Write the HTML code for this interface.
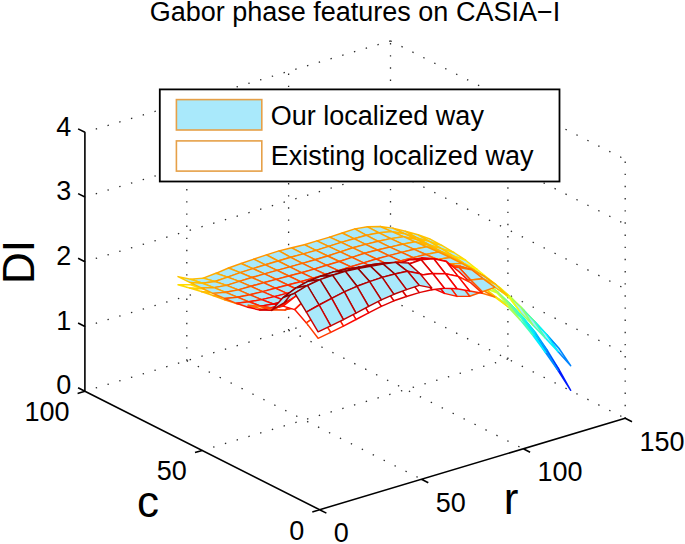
<!DOCTYPE html>
<html><head><meta charset="utf-8"><style>
html,body{margin:0;padding:0;background:#fff;}
svg{display:block;font-family:"Liberation Sans",sans-serif;}
</style></head><body>
<svg width="685" height="544" viewBox="0 0 685 544">
<rect width="685" height="544" fill="#fff"/>
<path d="M390.5 299.8L84.9 391.2M390.5 235.1L84.9 326.5M390.5 170.3L84.9 261.7M390.5 105.6L84.9 197.0M390.5 40.9L84.9 132.3M390.5 299.8L625.2 418.3M390.5 235.1L625.2 353.6M390.5 170.3L625.2 288.8M390.5 105.6L625.2 224.1M390.5 40.9L625.2 159.4M186.8 360.7L421.5 479.2M288.6 330.3L523.3 448.8M507.9 359.0L202.3 450.4M390.5 299.8L84.9 391.2" fill="none" stroke="#2a2a2a" stroke-width="1.3" stroke-dasharray="1.4 10.85"/>
<path d="M186.8 360.7L186.8 101.8M288.6 330.3L288.6 71.3M390.5 299.8L390.5 40.9M625.2 418.3L625.2 159.4M507.9 359.0L507.9 100.1" fill="none" stroke="#2a2a2a" stroke-width="1.3" stroke-dasharray="1.4 10.76"/>
<g stroke-width="1.45" stroke-linejoin="round"><polygon points="429.7,247.8 442.3,252.2 430.6,245.7 418.0,241.2" fill="#ffffff" stroke="#e7ff18"/><polygon points="429.7,241.6 442.3,245.6 430.6,239.3 418.0,234.8" fill="#a9e9fb" stroke="#ffc600"/><polygon points="417.0,244.1 429.7,247.8 418.0,241.2 405.4,237.8" fill="#ffffff" stroke="#ffff00"/><polygon points="441.3,254.8 454.0,259.5 442.3,252.2 429.7,247.8" fill="#ffffff" stroke="#d5ff2a"/><polygon points="417.0,237.9 429.7,241.6 418.0,234.8 405.4,231.3" fill="#a9e9fb" stroke="#ffc000"/><polygon points="441.3,248.6 454.0,252.5 442.3,245.6 429.7,241.6" fill="#a9e9fb" stroke="#ffcb00"/><polygon points="404.4,240.5 417.0,244.1 405.4,237.8 392.7,234.8" fill="#ffffff" stroke="#ffe700"/><polygon points="428.7,250.6 441.3,254.8 429.7,247.8 417.0,244.1" fill="#ffffff" stroke="#f4ff0b"/><polygon points="453.0,262.0 465.6,267.3 454.0,259.5 441.3,254.8" fill="#ffffff" stroke="#c3ff3c"/><polygon points="404.4,233.7 417.0,237.9 405.4,231.3 392.7,228.1" fill="#a9e9fb" stroke="#ffba00"/><polygon points="428.7,244.7 441.3,248.6 429.7,241.6 417.0,237.9" fill="#a9e9fb" stroke="#ffc100"/><polygon points="453.0,255.9 465.6,260.2 454.0,252.5 441.3,248.6" fill="#a9e9fb" stroke="#ffd400"/><polygon points="391.8,238.8 404.4,240.5 392.7,234.8 380.1,233.7" fill="#ffffff" stroke="#ffd100"/><polygon points="416.1,246.2 428.7,250.6 417.0,244.1 404.4,240.5" fill="#ffffff" stroke="#ffed00"/><polygon points="391.8,231.6 404.4,233.7 392.7,228.1 380.1,226.5" fill="#a9e9fb" stroke="#ffb500"/><polygon points="440.4,257.2 453.0,262.0 441.3,254.8 428.7,250.6" fill="#ffffff" stroke="#e7ff18"/><polygon points="464.7,269.9 477.3,276.6 465.6,267.3 453.0,262.0" fill="#ffffff" stroke="#b2ff4d"/><polygon points="416.1,239.4 428.7,244.7 417.0,237.9 404.4,233.7" fill="#a9e9fb" stroke="#ffba00"/><polygon points="440.4,251.5 453.0,255.9 441.3,248.6 428.7,244.7" fill="#a9e9fb" stroke="#ffc400"/><polygon points="464.7,264.0 477.3,269.5 465.6,260.2 453.0,255.9" fill="#a9e9fb" stroke="#ffe300"/><polygon points="379.1,239.9 391.8,238.8 380.1,233.7 367.5,235.1" fill="#ffffff" stroke="#ffc000"/><polygon points="379.1,232.8 391.8,231.6 380.1,226.5 367.5,226.8" fill="#a9e9fb" stroke="#ffae00"/><polygon points="403.4,243.9 416.1,246.2 404.4,240.5 391.8,238.8" fill="#ffffff" stroke="#ffd300"/><polygon points="427.7,251.7 440.4,257.2 428.7,250.6 416.1,246.2" fill="#ffffff" stroke="#fff400"/><polygon points="476.4,278.0 489.0,286.3 477.3,276.6 464.7,269.9" fill="#ffffff" stroke="#9eff61"/><polygon points="403.4,236.7 416.1,239.4 404.4,233.7 391.8,231.6" fill="#a9e9fb" stroke="#ffb500"/><polygon points="452.1,263.8 464.7,269.9 453.0,262.0 440.4,257.2" fill="#ffffff" stroke="#daff25"/><polygon points="427.7,245.0 440.4,251.5 428.7,244.7 416.1,239.4" fill="#a9e9fb" stroke="#ffbb00"/><polygon points="452.1,258.4 464.7,264.0 453.0,255.9 440.4,251.5" fill="#a9e9fb" stroke="#ffcc00"/><polygon points="476.4,272.4 489.0,279.1 477.3,269.5 464.7,264.0" fill="#a9e9fb" stroke="#fff700"/><polygon points="366.5,242.2 379.1,239.9 367.5,235.1 354.8,237.3" fill="#ffffff" stroke="#ffb500"/><polygon points="366.5,235.3 379.1,232.8 367.5,226.8 354.8,228.9" fill="#a9e9fb" stroke="#ffa600"/><polygon points="390.8,244.7 403.4,243.9 391.8,238.8 379.1,239.9" fill="#ffffff" stroke="#ffbf00"/><polygon points="390.8,238.6 403.4,236.7 391.8,231.6 379.1,232.8" fill="#a9e9fb" stroke="#ffab00"/><polygon points="415.1,248.7 427.7,251.7 416.1,246.2 403.4,243.9" fill="#ffffff" stroke="#ffd600"/><polygon points="488.0,286.2 500.7,296.4 489.0,286.3 476.4,278.0" fill="#ffffff" stroke="#84ff7b"/><polygon points="353.9,245.2 366.5,242.2 354.8,237.3 342.2,239.8" fill="#ffffff" stroke="#ffb000"/><polygon points="439.4,257.2 452.1,263.8 440.4,257.2 427.7,251.7" fill="#ffffff" stroke="#ffff00"/><polygon points="463.7,270.7 476.4,278.0 464.7,269.9 452.1,263.8" fill="#ffffff" stroke="#caff35"/><polygon points="415.1,241.8 427.7,245.0 416.1,239.4 403.4,236.7" fill="#a9e9fb" stroke="#ffb500"/><polygon points="488.0,280.9 500.7,288.4 489.0,279.1 476.4,272.4" fill="#a9e9fb" stroke="#f3ff0c"/><polygon points="439.4,250.6 452.1,258.4 440.4,251.5 427.7,245.0" fill="#a9e9fb" stroke="#ffbe00"/><polygon points="463.7,265.6 476.4,272.4 464.7,264.0 452.1,258.4" fill="#a9e9fb" stroke="#ffdb00"/><polygon points="353.9,238.7 366.5,235.3 354.8,228.9 342.2,233.0" fill="#a9e9fb" stroke="#ffa000"/><polygon points="378.2,247.0 390.8,244.7 379.1,239.9 366.5,242.2" fill="#ffffff" stroke="#ffb200"/><polygon points="378.2,241.3 390.8,238.6 379.1,232.8 366.5,235.3" fill="#a9e9fb" stroke="#ff9d00"/><polygon points="341.2,248.7 353.9,245.2 342.2,239.8 329.6,242.9" fill="#ffffff" stroke="#ffaf00"/><polygon points="402.5,249.3 415.1,248.7 403.4,243.9 390.8,244.7" fill="#ffffff" stroke="#ffbe00"/><polygon points="341.2,242.4 353.9,238.7 342.2,233.0 329.6,237.1" fill="#a9e9fb" stroke="#ff9b00"/><polygon points="402.5,244.2 415.1,241.8 403.4,236.7 390.8,238.6" fill="#a9e9fb" stroke="#ffa700"/><polygon points="499.7,295.1 512.3,307.1 500.7,296.4 488.0,286.2" fill="#ffffff" stroke="#63ff9c"/><polygon points="426.8,253.4 439.4,257.2 427.7,251.7 415.1,248.7" fill="#ffffff" stroke="#ffdd00"/><polygon points="475.4,277.5 488.0,286.2 476.4,278.0 463.7,270.7" fill="#ffffff" stroke="#b6ff49"/><polygon points="451.1,263.0 463.7,270.7 452.1,263.8 439.4,257.2" fill="#ffffff" stroke="#f2ff0d"/><polygon points="365.6,250.6 378.2,247.0 366.5,242.2 353.9,245.2" fill="#ffffff" stroke="#ffab00"/><polygon points="499.7,289.9 512.3,298.6 500.7,288.4 488.0,280.9" fill="#a9e9fb" stroke="#ddff22"/><polygon points="426.8,246.8 439.4,250.6 427.7,245.0 415.1,241.8" fill="#a9e9fb" stroke="#ffb400"/><polygon points="475.4,273.2 488.0,280.9 476.4,272.4 463.7,265.6" fill="#a9e9fb" stroke="#ffee00"/><polygon points="451.1,256.6 463.7,265.6 452.1,258.4 439.4,250.6" fill="#a9e9fb" stroke="#ffc500"/><polygon points="365.6,244.4 378.2,241.3 366.5,235.3 353.9,238.7" fill="#a9e9fb" stroke="#ff9400"/><polygon points="328.6,252.8 341.2,248.7 329.6,242.9 316.9,247.0" fill="#ffffff" stroke="#ffaf00"/><polygon points="389.9,251.7 402.5,249.3 390.8,244.7 378.2,247.0" fill="#ffffff" stroke="#ffae00"/><polygon points="328.6,246.4 341.2,242.4 329.6,237.1 316.9,240.9" fill="#a9e9fb" stroke="#ff9900"/><polygon points="389.9,247.1 402.5,244.2 390.8,238.6 378.2,241.3" fill="#a9e9fb" stroke="#ff9200"/><polygon points="352.9,254.2 365.6,250.6 353.9,245.2 341.2,248.7" fill="#ffffff" stroke="#ffa800"/><polygon points="414.2,253.9 426.8,253.4 415.1,248.7 402.5,249.3" fill="#ffffff" stroke="#ffc000"/><polygon points="511.4,305.2 524.0,318.6 512.3,307.1 499.7,295.1" fill="#ffffff" stroke="#3bffc4"/><polygon points="352.9,247.8 365.6,244.4 353.9,238.7 341.2,242.4" fill="#a9e9fb" stroke="#ff8f00"/><polygon points="414.2,249.3 426.8,246.8 415.1,241.8 402.5,244.2" fill="#a9e9fb" stroke="#ffa100"/><polygon points="316.0,256.9 328.6,252.8 316.9,247.0 304.3,251.1" fill="#ffffff" stroke="#ffaf00"/><polygon points="438.5,258.5 451.1,263.0 439.4,257.2 426.8,253.4" fill="#ffffff" stroke="#ffe900"/><polygon points="487.1,284.9 499.7,295.1 488.0,286.2 475.4,277.5" fill="#ffffff" stroke="#9aff65"/><polygon points="511.4,299.4 524.0,310.4 512.3,298.6 499.7,289.9" fill="#a9e9fb" stroke="#bdff42"/><polygon points="462.8,269.1 475.4,277.5 463.7,270.7 451.1,263.0" fill="#ffffff" stroke="#e0ff1f"/><polygon points="377.2,255.6 389.9,251.7 378.2,247.0 365.6,250.6" fill="#ffffff" stroke="#ffa400"/><polygon points="487.1,281.1 499.7,289.9 488.0,280.9 475.4,273.2" fill="#a9e9fb" stroke="#f8ff07"/><polygon points="316.0,250.4 328.6,246.4 316.9,240.9 304.3,244.7" fill="#a9e9fb" stroke="#ff9800"/><polygon points="438.5,252.0 451.1,256.6 439.4,250.6 426.8,246.8" fill="#a9e9fb" stroke="#ffb300"/><polygon points="462.8,263.0 475.4,273.2 463.7,265.6 451.1,256.6" fill="#a9e9fb" stroke="#ffd100"/><polygon points="377.2,250.0 389.9,247.1 378.2,241.3 365.6,244.4" fill="#a9e9fb" stroke="#ff8400"/><polygon points="340.3,258.4 352.9,254.2 341.2,248.7 328.6,252.8" fill="#ffffff" stroke="#ffa700"/><polygon points="401.5,256.3 414.2,253.9 402.5,249.3 389.9,251.7" fill="#ffffff" stroke="#ffa900"/><polygon points="340.3,251.9 352.9,247.8 341.2,242.4 328.6,246.4" fill="#a9e9fb" stroke="#ff8c00"/><polygon points="523.1,317.8 535.7,332.9 524.0,318.6 511.4,305.2" fill="#ffffff" stroke="#08fff7"/><polygon points="401.5,252.4 414.2,249.3 402.5,244.2 389.9,247.1" fill="#a9e9fb" stroke="#ff8500"/><polygon points="303.3,260.7 316.0,256.9 304.3,251.1 291.7,254.9" fill="#ffffff" stroke="#ffaf00"/><polygon points="364.6,259.7 377.2,255.6 365.6,250.6 352.9,254.2" fill="#ffffff" stroke="#ff9f00"/><polygon points="425.8,258.5 438.5,258.5 426.8,253.4 414.2,253.9" fill="#ffffff" stroke="#ffc500"/><polygon points="303.3,253.9 316.0,250.4 304.3,244.7 291.7,247.8" fill="#a9e9fb" stroke="#ff9600"/><polygon points="523.1,310.2 535.7,323.1 524.0,310.4 511.4,299.4" fill="#a9e9fb" stroke="#94ff6b"/><polygon points="498.8,293.7 511.4,305.2 499.7,295.1 487.1,284.9" fill="#ffffff" stroke="#76ff89"/><polygon points="364.6,253.3 377.2,250.0 365.6,244.4 352.9,247.8" fill="#a9e9fb" stroke="#ff7f00"/><polygon points="425.8,254.5 438.5,252.0 426.8,246.8 414.2,249.3" fill="#a9e9fb" stroke="#ff9800"/><polygon points="327.7,262.5 340.3,258.4 328.6,252.8 316.0,256.9" fill="#ffffff" stroke="#ffa700"/><polygon points="450.1,263.9 462.8,269.1 451.1,263.0 438.5,258.5" fill="#ffffff" stroke="#fff800"/><polygon points="474.4,275.7 487.1,284.9 475.4,277.5 462.8,269.1" fill="#ffffff" stroke="#c8ff37"/><polygon points="498.8,289.0 511.4,299.4 499.7,289.9 487.1,281.1" fill="#a9e9fb" stroke="#e2ff1d"/><polygon points="388.9,260.4 401.5,256.3 389.9,251.7 377.2,255.6" fill="#ffffff" stroke="#ff9b00"/><polygon points="474.4,270.0 487.1,281.1 475.4,273.2 462.8,263.0" fill="#a9e9fb" stroke="#ffe200"/><polygon points="450.1,257.5 462.8,263.0 451.1,256.6 438.5,252.0" fill="#a9e9fb" stroke="#ffb300"/><polygon points="327.7,256.0 340.3,251.9 328.6,246.4 316.0,250.4" fill="#a9e9fb" stroke="#ff8900"/><polygon points="290.7,264.4 303.3,260.7 291.7,254.9 279.0,258.7" fill="#ffffff" stroke="#ffaf00"/><polygon points="388.9,255.6 401.5,252.4 389.9,247.1 377.2,250.0" fill="#a9e9fb" stroke="#ff7100"/><polygon points="534.7,333.3 547.4,350.4 535.7,332.9 523.1,317.8" fill="#ffffff" stroke="#00c4ff"/><polygon points="352.0,263.8 364.6,259.7 352.9,254.2 340.3,258.4" fill="#ffffff" stroke="#ff9d00"/><polygon points="290.7,257.3 303.3,253.9 291.7,247.8 279.0,250.9" fill="#a9e9fb" stroke="#ff9500"/><polygon points="413.2,260.7 425.8,258.5 414.2,253.9 401.5,256.3" fill="#ffffff" stroke="#ffa500"/><polygon points="352.0,257.4 364.6,253.3 352.9,247.8 340.3,251.9" fill="#a9e9fb" stroke="#ff7a00"/><polygon points="315.0,266.2 327.7,262.5 316.0,256.9 303.3,260.7" fill="#ffffff" stroke="#ffa700"/><polygon points="413.2,257.6 425.8,254.5 414.2,249.3 401.5,252.4" fill="#a9e9fb" stroke="#ff7600"/><polygon points="534.7,321.8 547.4,335.8 535.7,323.1 523.1,310.2" fill="#a9e9fb" stroke="#60ff9f"/><polygon points="510.4,304.5 523.1,317.8 511.4,305.2 498.8,293.7" fill="#ffffff" stroke="#48ffb7"/><polygon points="376.3,264.8 388.9,260.4 377.2,255.6 364.6,259.7" fill="#ffffff" stroke="#ff9400"/><polygon points="315.0,259.7 327.7,256.0 316.0,250.4 303.3,253.9" fill="#a9e9fb" stroke="#ff8500"/><polygon points="437.5,263.1 450.1,263.9 438.5,258.5 425.8,258.5" fill="#ffffff" stroke="#ffce00"/><polygon points="278.1,267.9 290.7,264.4 279.0,258.7 266.4,262.2" fill="#ffffff" stroke="#ffaf00"/><polygon points="376.3,259.0 388.9,255.6 377.2,250.0 364.6,253.3" fill="#a9e9fb" stroke="#ff6800"/><polygon points="510.4,298.3 523.1,310.2 511.4,299.4 498.8,289.0" fill="#a9e9fb" stroke="#c7ff38"/><polygon points="486.1,283.3 498.8,293.7 487.1,284.9 474.4,275.7" fill="#ffffff" stroke="#a7ff58"/><polygon points="546.4,350.9 559.1,369.6 547.4,350.4 534.7,333.3" fill="#ffffff" stroke="#0076ff"/><polygon points="437.5,259.5 450.1,257.5 438.5,252.0 425.8,254.5" fill="#a9e9fb" stroke="#ff8f00"/><polygon points="461.8,269.8 474.4,275.7 462.8,269.1 450.1,263.9" fill="#ffffff" stroke="#f1ff0e"/><polygon points="339.3,267.9 352.0,263.8 340.3,258.4 327.7,262.5" fill="#ffffff" stroke="#ff9d00"/><polygon points="486.1,277.9 498.8,289.0 487.1,281.1 474.4,270.0" fill="#a9e9fb" stroke="#fff000"/><polygon points="278.1,261.0 290.7,257.3 279.0,250.9 266.4,254.9" fill="#a9e9fb" stroke="#ff9500"/><polygon points="400.6,265.0 413.2,260.7 401.5,256.3 388.9,260.4" fill="#ffffff" stroke="#ff9000"/><polygon points="461.8,263.4 474.4,270.0 462.8,263.0 450.1,257.5" fill="#a9e9fb" stroke="#ffb600"/><polygon points="339.3,261.5 352.0,257.4 340.3,251.9 327.7,256.0" fill="#a9e9fb" stroke="#ff7400"/><polygon points="302.4,270.0 315.0,266.2 303.3,260.7 290.7,264.4" fill="#ffffff" stroke="#ffa700"/><polygon points="400.6,261.0 413.2,257.6 401.5,252.4 388.9,255.6" fill="#a9e9fb" stroke="#ff5e00"/><polygon points="363.6,269.0 376.3,264.8 364.6,259.7 352.0,263.8" fill="#ffffff" stroke="#ff9200"/><polygon points="546.4,334.3 559.1,348.5 547.4,335.8 534.7,321.8" fill="#a9e9fb" stroke="#10ffef"/><polygon points="302.4,263.4 315.0,259.7 303.3,253.9 290.7,257.3" fill="#a9e9fb" stroke="#ff8100"/><polygon points="522.1,318.1 534.7,333.3 523.1,317.8 510.4,304.5" fill="#ffffff" stroke="#14ffeb"/><polygon points="265.4,271.3 278.1,267.9 266.4,262.2 253.8,265.6" fill="#ffffff" stroke="#ffaf00"/><polygon points="424.9,264.8 437.5,263.1 425.8,258.5 413.2,260.7" fill="#ffffff" stroke="#ffa300"/><polygon points="558.1,370.7 570.7,390.3 559.1,369.6 546.4,350.9" fill="#ffffff" stroke="#0019ff"/><polygon points="363.6,262.9 376.3,259.0 364.6,253.3 352.0,257.4" fill="#a9e9fb" stroke="#ff6000"/><polygon points="326.7,271.7 339.3,267.9 327.7,262.5 315.0,266.2" fill="#ffffff" stroke="#ff9d00"/><polygon points="424.9,262.6 437.5,259.5 425.8,254.5 413.2,257.6" fill="#a9e9fb" stroke="#ff6900"/><polygon points="265.4,264.8 278.1,261.0 266.4,254.9 253.8,259.1" fill="#a9e9fb" stroke="#ff9500"/><polygon points="387.9,269.6 400.6,265.0 388.9,260.4 376.3,264.8" fill="#ffffff" stroke="#ff8700"/><polygon points="522.1,308.9 534.7,321.8 523.1,310.2 510.4,298.3" fill="#a9e9fb" stroke="#a0ff5f"/><polygon points="326.7,265.3 339.3,261.5 327.7,256.0 315.0,259.7" fill="#a9e9fb" stroke="#ff6f00"/><polygon points="449.2,268.1 461.8,269.8 450.1,263.9 437.5,263.1" fill="#ffffff" stroke="#ffdb00"/><polygon points="497.8,292.2 510.4,304.5 498.8,293.7 486.1,283.3" fill="#ffffff" stroke="#80ff7f"/><polygon points="289.8,273.5 302.4,270.0 290.7,264.4 278.1,267.9" fill="#ffffff" stroke="#ffa700"/><polygon points="387.9,264.6 400.6,261.0 388.9,255.6 376.3,259.0" fill="#a9e9fb" stroke="#ff5000"/><polygon points="473.5,276.0 486.1,283.3 474.4,275.7 461.8,269.8" fill="#ffffff" stroke="#d4ff2b"/><polygon points="449.2,264.0 461.8,263.4 450.1,257.5 437.5,259.5" fill="#a9e9fb" stroke="#ff8a00"/><polygon points="351.0,273.0 363.6,269.0 352.0,263.8 339.3,267.9" fill="#ffffff" stroke="#ff9200"/><polygon points="497.8,286.9 510.4,298.3 498.8,289.0 486.1,277.9" fill="#a9e9fb" stroke="#fcff03"/><polygon points="289.8,266.9 302.4,263.4 290.7,257.3 278.1,261.0" fill="#a9e9fb" stroke="#ff8000"/><polygon points="473.5,270.0 486.1,277.9 474.4,270.0 461.8,263.4" fill="#a9e9fb" stroke="#ffbf00"/><polygon points="558.1,351.8 570.7,365.7 559.1,348.5 546.4,334.3" fill="#a9e9fb" stroke="#0084ff"/><polygon points="252.8,275.2 265.4,271.3 253.8,265.6 241.1,269.6" fill="#ffffff" stroke="#ffaf00"/><polygon points="351.0,266.8 363.6,262.9 352.0,257.4 339.3,261.5" fill="#a9e9fb" stroke="#ff5900"/><polygon points="412.3,268.9 424.9,264.8 413.2,260.7 400.6,265.0" fill="#ffffff" stroke="#ff8600"/><polygon points="533.8,334.0 546.4,350.9 534.7,333.3 522.1,318.1" fill="#ffffff" stroke="#00d8ff"/><polygon points="314.1,275.4 326.7,271.7 315.0,266.2 302.4,270.0" fill="#ffffff" stroke="#ff9d00"/><polygon points="412.3,266.2 424.9,262.6 413.2,257.6 400.6,261.0" fill="#a9e9fb" stroke="#ff4d00"/><polygon points="252.8,268.6 265.4,264.8 253.8,259.1 241.1,263.5" fill="#a9e9fb" stroke="#ff9600"/><polygon points="375.3,273.8 387.9,269.6 376.3,264.8 363.6,269.0" fill="#ffffff" stroke="#ff8400"/><polygon points="314.1,269.1 326.7,265.3 315.0,259.7 302.4,263.4" fill="#a9e9fb" stroke="#ff6a00"/><polygon points="277.1,276.9 289.8,273.5 278.1,267.9 265.4,271.3" fill="#ffffff" stroke="#ffa700"/><polygon points="375.3,268.3 387.9,264.6 376.3,259.0 363.6,262.9" fill="#a9e9fb" stroke="#ff4500"/><polygon points="436.6,268.7 449.2,268.1 437.5,263.1 424.9,264.8" fill="#ffffff" stroke="#ffa400"/><polygon points="533.8,320.7 546.4,334.3 534.7,321.8 522.1,308.9" fill="#a9e9fb" stroke="#63ff9c"/><polygon points="338.4,276.8 351.0,273.0 339.3,267.9 326.7,271.7" fill="#ffffff" stroke="#ff9200"/><polygon points="436.6,266.5 449.2,264.0 437.5,259.5 424.9,262.6" fill="#a9e9fb" stroke="#ff6200"/><polygon points="509.5,303.7 522.1,318.1 510.4,304.5 497.8,292.2" fill="#ffffff" stroke="#57ffa8"/><polygon points="277.1,270.4 289.8,266.9 278.1,261.0 265.4,264.8" fill="#a9e9fb" stroke="#ff8000"/><polygon points="240.2,279.2 252.8,275.2 241.1,269.6 228.5,273.8" fill="#ffffff" stroke="#ffaf00"/><polygon points="399.6,273.3 412.3,268.9 400.6,265.0 387.9,269.6" fill="#ffffff" stroke="#ff7700"/><polygon points="338.4,270.7 351.0,266.8 339.3,261.5 326.7,265.3" fill="#a9e9fb" stroke="#ff5200"/><polygon points="460.9,274.0 473.5,276.0 461.8,269.8 449.2,268.1" fill="#ffffff" stroke="#ffed00"/><polygon points="545.5,352.5 558.1,370.7 546.4,350.9 533.8,334.0" fill="#ffffff" stroke="#008eff"/><polygon points="485.2,283.3 497.8,292.2 486.1,283.3 473.5,276.0" fill="#ffffff" stroke="#b4ff4b"/><polygon points="509.5,296.7 522.1,308.9 510.4,298.3 497.8,286.9" fill="#a9e9fb" stroke="#deff21"/><polygon points="301.4,278.9 314.1,275.4 302.4,270.0 289.8,273.5" fill="#ffffff" stroke="#ff9d00"/><polygon points="399.6,269.9 412.3,266.2 400.6,261.0 387.9,264.6" fill="#a9e9fb" stroke="#ff3b00"/><polygon points="240.2,272.6 252.8,268.6 241.1,263.5 228.5,268.0" fill="#a9e9fb" stroke="#ff9a00"/><polygon points="460.9,267.4 473.5,270.0 461.8,263.4 449.2,264.0" fill="#a9e9fb" stroke="#ff9100"/><polygon points="362.7,277.8 375.3,273.8 363.6,269.0 351.0,273.0" fill="#ffffff" stroke="#ff8400"/><polygon points="485.2,277.4 497.8,286.9 486.1,277.9 473.5,270.0" fill="#a9e9fb" stroke="#ffce00"/><polygon points="301.4,272.7 314.1,269.1 302.4,263.4 289.8,266.9" fill="#a9e9fb" stroke="#ff6800"/><polygon points="264.5,280.7 277.1,276.9 265.4,271.3 252.8,275.2" fill="#ffffff" stroke="#ffa700"/><polygon points="362.7,272.1 375.3,268.3 363.6,262.9 351.0,266.8" fill="#a9e9fb" stroke="#ff3b00"/><polygon points="423.9,271.0 436.6,268.7 424.9,264.8 412.3,268.9" fill="#ffffff" stroke="#ff7900"/><polygon points="325.7,280.5 338.4,276.8 326.7,271.7 314.1,275.4" fill="#ffffff" stroke="#ff9200"/><polygon points="423.9,270.2 436.6,266.5 424.9,262.6 412.3,266.2" fill="#a9e9fb" stroke="#ff4500"/><polygon points="545.5,338.3 558.1,351.8 546.4,334.3 533.8,320.7" fill="#a9e9fb" stroke="#00f0ff"/><polygon points="264.5,273.9 277.1,270.4 265.4,264.8 252.8,268.6" fill="#a9e9fb" stroke="#ff8000"/><polygon points="227.6,283.3 240.2,279.2 228.5,273.8 215.9,278.3" fill="#ffffff" stroke="#ffb400"/><polygon points="387.0,277.6 399.6,273.3 387.9,269.6 375.3,273.8" fill="#ffffff" stroke="#ff7000"/><polygon points="521.2,318.0 533.8,334.0 522.1,318.1 509.5,303.7" fill="#ffffff" stroke="#2affd5"/><polygon points="325.7,274.5 338.4,270.7 326.7,265.3 314.1,269.1" fill="#a9e9fb" stroke="#ff4d00"/><polygon points="288.8,282.4 301.4,278.9 289.8,273.5 277.1,276.9" fill="#ffffff" stroke="#ff9d00"/><polygon points="387.0,273.7 399.6,269.9 387.9,264.6 375.3,268.3" fill="#a9e9fb" stroke="#ff2c00"/><polygon points="448.2,272.7 460.9,274.0 449.2,268.1 436.6,268.7" fill="#ffffff" stroke="#ffa300"/><polygon points="227.6,277.1 240.2,272.6 228.5,268.0 215.9,273.3" fill="#a9e9fb" stroke="#ffa100"/><polygon points="350.1,281.6 362.7,277.8 351.0,273.0 338.4,276.8" fill="#ffffff" stroke="#ff8400"/><polygon points="288.8,276.0 301.4,272.7 289.8,266.9 277.1,270.4" fill="#a9e9fb" stroke="#ff6800"/><polygon points="521.2,307.5 533.8,320.7 522.1,308.9 509.5,296.7" fill="#a9e9fb" stroke="#afff50"/><polygon points="448.2,267.3 460.9,267.4 449.2,264.0 436.6,266.5" fill="#a9e9fb" stroke="#ff6b00"/><polygon points="496.8,292.8 509.5,303.7 497.8,292.2 485.2,283.3" fill="#ffffff" stroke="#93ff6c"/><polygon points="472.5,280.4 485.2,283.3 473.5,276.0 460.9,274.0" fill="#ffffff" stroke="#fcff03"/><polygon points="251.9,284.6 264.5,280.7 252.8,275.2 240.2,279.2" fill="#ffffff" stroke="#ffa700"/><polygon points="350.1,275.9 362.7,272.1 351.0,266.8 338.4,270.7" fill="#a9e9fb" stroke="#ff3400"/><polygon points="411.3,274.2 423.9,271.0 412.3,268.9 399.6,273.3" fill="#ffffff" stroke="#ff6000"/><polygon points="313.1,284.2 325.7,280.5 314.1,275.4 301.4,278.9" fill="#ffffff" stroke="#ff9200"/><polygon points="411.3,273.8 423.9,270.2 412.3,266.2 399.6,269.9" fill="#a9e9fb" stroke="#ff3000"/><polygon points="496.8,285.9 509.5,296.7 497.8,286.9 485.2,277.4" fill="#a9e9fb" stroke="#ffe700"/><polygon points="472.5,270.5 485.2,277.4 473.5,270.0 460.9,267.4" fill="#a9e9fb" stroke="#ffa100"/><polygon points="251.9,277.5 264.5,273.9 252.8,268.6 240.2,272.6" fill="#a9e9fb" stroke="#ff8200"/><polygon points="214.9,287.2 227.6,283.3 215.9,278.3 203.2,282.7" fill="#ffffff" stroke="#ffc300"/><polygon points="374.4,281.9 387.0,277.6 375.3,273.8 362.7,277.8" fill="#ffffff" stroke="#ff6f00"/><polygon points="313.1,278.1 325.7,274.5 314.1,269.1 301.4,272.7" fill="#a9e9fb" stroke="#ff4c00"/><polygon points="532.8,335.2 545.5,352.5 533.8,334.0 521.2,318.0" fill="#ffffff" stroke="#00edff"/><polygon points="276.2,286.1 288.8,282.4 277.1,276.9 264.5,280.7" fill="#ffffff" stroke="#ff9d00"/><polygon points="374.4,277.4 387.0,273.7 375.3,268.3 362.7,272.1" fill="#a9e9fb" stroke="#ff2000"/><polygon points="214.9,281.5 227.6,277.1 215.9,273.3 203.2,278.1" fill="#a9e9fb" stroke="#ffad00"/><polygon points="337.4,285.4 350.1,281.6 338.4,276.8 325.7,280.5" fill="#ffffff" stroke="#ff8400"/><polygon points="435.6,268.6 448.2,272.7 436.6,268.7 423.9,271.0" fill="#ffffff" stroke="#ff6500"/><polygon points="276.2,279.4 288.8,276.0 277.1,270.4 264.5,273.9" fill="#a9e9fb" stroke="#ff6800"/><polygon points="435.6,269.5 448.2,267.3 436.6,266.5 423.9,270.2" fill="#a9e9fb" stroke="#ff4e00"/><polygon points="239.2,288.2 251.9,284.6 240.2,279.2 227.6,283.3" fill="#ffffff" stroke="#ffab00"/><polygon points="337.4,279.6 350.1,275.9 338.4,270.7 325.7,274.5" fill="#a9e9fb" stroke="#ff2f00"/><polygon points="532.8,325.1 545.5,338.3 533.8,320.7 521.2,307.5" fill="#a9e9fb" stroke="#4cffb3"/><polygon points="398.7,278.3 411.3,274.2 399.6,273.3 387.0,277.6" fill="#ffffff" stroke="#ff5400"/><polygon points="300.5,287.8 313.1,284.2 301.4,278.9 288.8,282.4" fill="#ffffff" stroke="#ff9200"/><polygon points="508.5,305.0 521.2,318.0 509.5,303.7 496.8,292.8" fill="#ffffff" stroke="#71ff8e"/><polygon points="398.7,277.4 411.3,273.8 399.6,269.9 387.0,273.7" fill="#a9e9fb" stroke="#ff1f00"/><polygon points="459.9,277.6 472.5,280.4 460.9,274.0 448.2,272.7" fill="#ffffff" stroke="#ffa600"/><polygon points="239.2,281.4 251.9,277.5 240.2,272.6 227.6,277.1" fill="#a9e9fb" stroke="#ff8900"/><polygon points="361.7,286.1 374.4,281.9 362.7,277.8 350.1,281.6" fill="#ffffff" stroke="#ff6e00"/><polygon points="202.3,288.9 214.9,287.2 203.2,282.7 190.6,284.8" fill="#ffffff" stroke="#ffd100"/><polygon points="300.5,281.7 313.1,278.1 301.4,272.7 288.8,276.0" fill="#a9e9fb" stroke="#ff4c00"/><polygon points="484.2,288.1 496.8,292.8 485.2,283.3 472.5,280.4" fill="#ffffff" stroke="#e5ff1a"/><polygon points="263.5,289.8 276.2,286.1 264.5,280.7 251.9,284.6" fill="#ffffff" stroke="#ff9d00"/><polygon points="361.7,281.1 374.4,277.4 362.7,272.1 350.1,275.9" fill="#a9e9fb" stroke="#ff1700"/><polygon points="508.5,295.7 521.2,307.5 509.5,296.7 496.8,285.9" fill="#a9e9fb" stroke="#f3ff0c"/><polygon points="459.9,266.3 472.5,270.5 460.9,267.4 448.2,267.3" fill="#a9e9fb" stroke="#ff7c00"/><polygon points="202.3,283.3 214.9,281.5 203.2,278.1 190.6,279.2" fill="#a9e9fb" stroke="#ffbb00"/><polygon points="324.8,289.2 337.4,285.4 325.7,280.5 313.1,284.2" fill="#ffffff" stroke="#ff8400"/><polygon points="484.2,276.3 496.8,285.9 485.2,277.4 472.5,270.5" fill="#a9e9fb" stroke="#ffb500"/><polygon points="263.5,282.7 276.2,279.4 264.5,273.9 251.9,277.5" fill="#a9e9fb" stroke="#ff6800"/><polygon points="226.6,291.8 239.2,288.2 227.6,283.3 214.9,287.2" fill="#ffffff" stroke="#ffb700"/><polygon points="423.0,271.9 435.6,269.5 423.9,270.2 411.3,273.8" fill="#a9e9fb" stroke="#ff3800"/><polygon points="324.8,283.4 337.4,279.6 325.7,274.5 313.1,278.1" fill="#a9e9fb" stroke="#ff2d00"/><polygon points="423.0,266.8 435.6,268.6 423.9,271.0 411.3,274.2" fill="#ffffff" stroke="#ff3c00"/><polygon points="386.0,282.8 398.7,278.3 387.0,277.6 374.4,281.9" fill="#ffffff" stroke="#ff4f00"/><polygon points="287.8,291.5 300.5,287.8 288.8,282.4 276.2,286.1" fill="#ffffff" stroke="#ff9200"/><polygon points="386.0,280.8 398.7,277.4 387.0,273.7 374.4,277.4" fill="#a9e9fb" stroke="#ff1000"/><polygon points="226.6,285.4 239.2,281.4 227.6,277.1 214.9,281.5" fill="#a9e9fb" stroke="#ff9700"/><polygon points="349.1,290.1 361.7,286.1 350.1,281.6 337.4,285.4" fill="#ffffff" stroke="#ff6e00"/><polygon points="520.2,319.9 532.8,335.2 521.2,318.0 508.5,305.0" fill="#ffffff" stroke="#40ffbf"/><polygon points="287.8,285.0 300.5,281.7 288.8,276.0 276.2,279.4" fill="#a9e9fb" stroke="#ff4c00"/><polygon points="189.7,288.0 202.3,288.9 190.6,284.8 178.0,284.7" fill="#ffffff" stroke="#ffdc00"/><polygon points="250.9,293.3 263.5,289.8 251.9,284.6 239.2,288.2" fill="#ffffff" stroke="#ffa100"/><polygon points="349.1,284.7 361.7,281.1 350.1,275.9 337.4,279.6" fill="#a9e9fb" stroke="#ff1100"/><polygon points="447.3,267.5 459.9,277.6 448.2,272.7 435.6,268.6" fill="#ffffff" stroke="#ff5500"/><polygon points="312.2,292.9 324.8,289.2 313.1,284.2 300.5,287.8" fill="#ffffff" stroke="#ff8400"/><polygon points="471.6,283.6 484.2,288.1 472.5,280.4 459.9,277.6" fill="#ffffff" stroke="#ffb300"/><polygon points="520.2,312.2 532.8,325.1 521.2,307.5 508.5,295.7" fill="#a9e9fb" stroke="#9aff65"/><polygon points="495.9,297.1 508.5,305.0 496.8,292.8 484.2,288.1" fill="#ffffff" stroke="#cbff34"/><polygon points="189.7,282.4 202.3,283.3 190.6,279.2 178.0,276.6" fill="#a9e9fb" stroke="#ffc700"/><polygon points="447.3,265.3 459.9,266.3 448.2,267.3 435.6,269.5" fill="#a9e9fb" stroke="#ff5b00"/><polygon points="250.9,286.3 263.5,282.7 251.9,277.5 239.2,281.4" fill="#a9e9fb" stroke="#ff6d00"/><polygon points="312.2,287.2 324.8,283.4 313.1,278.1 300.5,281.7" fill="#a9e9fb" stroke="#ff2d00"/><polygon points="214.0,293.0 226.6,291.8 214.9,287.2 202.3,288.9" fill="#ffffff" stroke="#ffc400"/><polygon points="410.3,273.5 423.0,271.9 411.3,273.8 398.7,277.4" fill="#a9e9fb" stroke="#ff2500"/><polygon points="373.4,287.5 386.0,282.8 374.4,281.9 361.7,286.1" fill="#ffffff" stroke="#ff4d00"/><polygon points="410.3,269.4 423.0,266.8 411.3,274.2 398.7,278.3" fill="#ffffff" stroke="#ff2800"/><polygon points="275.2,295.0 287.8,291.5 276.2,286.1 263.5,289.8" fill="#ffffff" stroke="#ff9200"/><polygon points="373.4,283.9 386.0,280.8 374.4,277.4 361.7,281.1" fill="#a9e9fb" stroke="#ff0300"/><polygon points="495.9,284.7 508.5,295.7 496.8,285.9 484.2,276.3" fill="#a9e9fb" stroke="#ffd000"/><polygon points="214.0,287.6 226.6,285.4 214.9,281.5 202.3,283.3" fill="#a9e9fb" stroke="#ffa800"/><polygon points="471.6,269.7 484.2,276.3 472.5,270.5 459.9,266.3" fill="#a9e9fb" stroke="#ff8a00"/><polygon points="336.5,293.7 349.1,290.1 337.4,285.4 324.8,289.2" fill="#ffffff" stroke="#ff6f00"/><polygon points="275.2,288.2 287.8,285.0 276.2,279.4 263.5,282.7" fill="#a9e9fb" stroke="#ff4c00"/><polygon points="238.3,296.4 250.9,293.3 239.2,288.2 226.6,291.8" fill="#ffffff" stroke="#ffab00"/><polygon points="336.5,288.2 349.1,284.7 337.4,279.6 324.8,283.4" fill="#a9e9fb" stroke="#ff0e00"/><polygon points="299.5,296.5 312.2,292.9 300.5,287.8 287.8,291.5" fill="#ffffff" stroke="#ff8400"/><polygon points="238.3,289.9 250.9,286.3 239.2,281.4 226.6,285.4" fill="#a9e9fb" stroke="#ff7c00"/><polygon points="434.6,265.2 447.3,265.3 435.6,269.5 423.0,271.9" fill="#a9e9fb" stroke="#ff3f00"/><polygon points="299.5,290.5 312.2,287.2 300.5,281.7 287.8,285.0" fill="#a9e9fb" stroke="#ff2d00"/><polygon points="360.8,291.9 373.4,287.5 361.7,286.1 349.1,290.1" fill="#ffffff" stroke="#ff4d00"/><polygon points="397.7,274.6 410.3,273.5 398.7,277.4 386.0,280.8" fill="#a9e9fb" stroke="#ff1300"/><polygon points="434.6,259.0 447.3,267.5 435.6,268.6 423.0,266.8" fill="#ffffff" stroke="#ff1b00"/><polygon points="507.6,306.5 520.2,319.9 508.5,305.0 495.9,297.1" fill="#ffffff" stroke="#a5ff5a"/><polygon points="397.7,272.6 410.3,269.4 398.7,278.3 386.0,282.8" fill="#ffffff" stroke="#ff2000"/><polygon points="262.6,298.2 275.2,295.0 263.5,289.8 250.9,293.3" fill="#ffffff" stroke="#ff9500"/><polygon points="201.3,291.5 214.0,293.0 202.3,288.9 189.7,288.0" fill="#ffffff" stroke="#ffcf00"/><polygon points="360.8,286.7 373.4,283.9 361.7,281.1 349.1,284.7" fill="#a9e9fb" stroke="#f80000"/><polygon points="483.3,290.7 495.9,297.1 484.2,288.1 471.6,283.6" fill="#ffffff" stroke="#ffc600"/><polygon points="459.0,271.6 471.6,283.6 459.9,277.6 447.3,267.5" fill="#ffffff" stroke="#ff5400"/><polygon points="323.8,297.1 336.5,293.7 324.8,289.2 312.2,292.9" fill="#ffffff" stroke="#ff6f00"/><polygon points="201.3,287.9 214.0,287.6 202.3,283.3 189.7,282.4" fill="#a9e9fb" stroke="#ffb900"/><polygon points="262.6,291.6 275.2,288.2 263.5,282.7 250.9,286.3" fill="#a9e9fb" stroke="#ff4f00"/><polygon points="507.6,295.6 520.2,312.2 508.5,295.7 495.9,284.7" fill="#a9e9fb" stroke="#edff12"/><polygon points="323.8,291.6 336.5,288.2 324.8,283.4 312.2,287.2" fill="#a9e9fb" stroke="#ff0c00"/><polygon points="225.6,297.2 238.3,296.4 226.6,291.8 214.0,293.0" fill="#ffffff" stroke="#ffb600"/><polygon points="459.0,267.6 471.6,269.7 459.9,266.3 447.3,265.3" fill="#a9e9fb" stroke="#ff6100"/><polygon points="286.9,299.8 299.5,296.5 287.8,291.5 275.2,295.0" fill="#ffffff" stroke="#ff8400"/><polygon points="483.3,278.8 495.9,284.7 484.2,276.3 471.6,269.7" fill="#a9e9fb" stroke="#ff9c00"/><polygon points="225.6,292.3 238.3,289.9 226.6,285.4 214.0,287.6" fill="#a9e9fb" stroke="#ff8f00"/><polygon points="348.1,295.0 360.8,291.9 349.1,290.1 336.5,293.7" fill="#ffffff" stroke="#ff4d00"/><polygon points="286.9,293.4 299.5,290.5 287.8,285.0 275.2,288.2" fill="#a9e9fb" stroke="#ff2d00"/><polygon points="385.1,277.0 397.7,272.6 386.0,282.8 373.4,287.5" fill="#ffffff" stroke="#ff1b00"/><polygon points="422.0,264.8 434.6,265.2 423.0,271.9 410.3,273.5" fill="#a9e9fb" stroke="#ff2800"/><polygon points="385.1,274.6 397.7,274.6 386.0,280.8 373.4,283.9" fill="#a9e9fb" stroke="#fe0000"/><polygon points="249.9,301.0 262.6,298.2 250.9,293.3 238.3,296.4" fill="#ffffff" stroke="#ff9c00"/><polygon points="348.1,289.7 360.8,286.7 349.1,284.7 336.5,288.2" fill="#a9e9fb" stroke="#f10000"/><polygon points="311.2,300.4 323.8,297.1 312.2,292.9 299.5,296.5" fill="#ffffff" stroke="#ff6f00"/><polygon points="422.0,258.1 434.6,259.0 423.0,266.8 410.3,269.4" fill="#ffffff" stroke="#fe0000"/><polygon points="249.9,294.8 262.6,291.6 250.9,286.3 238.3,289.9" fill="#a9e9fb" stroke="#ff5b00"/><polygon points="311.2,294.8 323.8,291.6 312.2,287.2 299.5,290.5" fill="#a9e9fb" stroke="#ff0b00"/><polygon points="494.9,297.1 507.6,306.5 495.9,297.1 483.3,290.7" fill="#ffffff" stroke="#ffe100"/><polygon points="274.3,302.8 286.9,299.8 275.2,295.0 262.6,298.2" fill="#ffffff" stroke="#ff8600"/><polygon points="470.6,282.6 483.3,290.7 471.6,283.6 459.0,271.6" fill="#ffffff" stroke="#ff6000"/><polygon points="213.0,295.5 225.6,297.2 214.0,293.0 201.3,291.5" fill="#ffffff" stroke="#ffbf00"/><polygon points="446.3,266.6 459.0,267.6 447.3,265.3 434.6,265.2" fill="#a9e9fb" stroke="#ff3c00"/><polygon points="446.3,261.5 459.0,271.6 447.3,267.5 434.6,259.0" fill="#ffffff" stroke="#ff0f00"/><polygon points="213.0,293.4 225.6,292.3 214.0,287.6 201.3,287.9" fill="#a9e9fb" stroke="#ffa300"/><polygon points="335.5,297.8 348.1,295.0 336.5,293.7 323.8,297.1" fill="#ffffff" stroke="#ff4d00"/><polygon points="372.5,281.4 385.1,277.0 373.4,287.5 360.8,291.9" fill="#ffffff" stroke="#ff1800"/><polygon points="274.3,296.6 286.9,293.4 275.2,288.2 262.6,291.6" fill="#a9e9fb" stroke="#ff2f00"/><polygon points="470.6,280.0 483.3,278.8 471.6,269.7 459.0,267.6" fill="#a9e9fb" stroke="#ff6d00"/><polygon points="494.9,287.4 507.6,295.6 495.9,284.7 483.3,278.8" fill="#a9e9fb" stroke="#ffbd00"/><polygon points="409.4,264.5 422.0,264.8 410.3,273.5 397.7,274.6" fill="#a9e9fb" stroke="#ff1400"/><polygon points="372.5,275.3 385.1,274.6 373.4,283.9 360.8,286.7" fill="#a9e9fb" stroke="#ea0000"/><polygon points="237.3,301.7 249.9,301.0 238.3,296.4 225.6,297.2" fill="#ffffff" stroke="#ffa400"/><polygon points="335.5,292.6 348.1,289.7 336.5,288.2 323.8,291.6" fill="#a9e9fb" stroke="#ec0000"/><polygon points="298.6,303.6 311.2,300.4 299.5,296.5 286.9,299.8" fill="#ffffff" stroke="#ff7100"/><polygon points="409.4,259.8 422.0,258.1 410.3,269.4 397.7,272.6" fill="#ffffff" stroke="#f40000"/><polygon points="237.3,297.2 249.9,294.8 238.3,289.9 225.6,292.3" fill="#a9e9fb" stroke="#ff6b00"/><polygon points="298.6,297.8 311.2,294.8 299.5,290.5 286.9,293.4" fill="#a9e9fb" stroke="#ff0c00"/><polygon points="261.6,305.3 274.3,302.8 262.6,298.2 249.9,301.0" fill="#ffffff" stroke="#ff8c00"/><polygon points="359.8,284.3 372.5,281.4 360.8,291.9 348.1,295.0" fill="#ffffff" stroke="#ff1800"/><polygon points="322.9,300.8 335.5,297.8 323.8,297.1 311.2,300.4" fill="#ffffff" stroke="#ff4f00"/><polygon points="261.6,299.6 274.3,296.6 262.6,291.6 249.9,294.8" fill="#a9e9fb" stroke="#ff3600"/><polygon points="433.7,265.7 446.3,266.6 434.6,265.2 422.0,264.8" fill="#a9e9fb" stroke="#ff2000"/><polygon points="482.3,293.2 494.9,297.1 483.3,290.7 470.6,282.6" fill="#ffffff" stroke="#ff7600"/><polygon points="322.9,295.7 335.5,292.6 323.8,291.6 311.2,294.8" fill="#a9e9fb" stroke="#ea0000"/><polygon points="359.8,277.7 372.5,275.3 360.8,286.7 348.1,289.7" fill="#a9e9fb" stroke="#dc0000"/><polygon points="458.0,281.6 470.6,280.0 459.0,267.6 446.3,266.6" fill="#a9e9fb" stroke="#ff4400"/><polygon points="433.7,258.8 446.3,261.5 434.6,259.0 422.0,258.1" fill="#ffffff" stroke="#ed0000"/><polygon points="285.9,306.6 298.6,303.6 286.9,299.8 274.3,302.8" fill="#ffffff" stroke="#ff7400"/><polygon points="458.0,276.4 470.6,282.6 459.0,271.6 446.3,261.5" fill="#ffffff" stroke="#ff1500"/><polygon points="396.8,263.2 409.4,264.5 397.7,274.6 385.1,274.6" fill="#a9e9fb" stroke="#f70000"/><polygon points="224.7,299.9 237.3,301.7 225.6,297.2 213.0,295.5" fill="#ffffff" stroke="#ffa900"/><polygon points="396.8,264.6 409.4,259.8 397.7,272.6 385.1,277.0" fill="#ffffff" stroke="#ed0000"/><polygon points="482.3,291.8 494.9,287.4 483.3,278.8 470.6,280.0" fill="#a9e9fb" stroke="#ff7e00"/><polygon points="224.7,298.5 237.3,297.2 225.6,292.3 213.0,293.4" fill="#a9e9fb" stroke="#ff7f00"/><polygon points="285.9,301.0 298.6,297.8 286.9,293.4 274.3,296.6" fill="#a9e9fb" stroke="#ff0d00"/><polygon points="249.0,305.6 261.6,305.3 249.9,301.0 237.3,301.7" fill="#ffffff" stroke="#ff9000"/><polygon points="310.2,303.9 322.9,300.8 311.2,300.4 298.6,303.6" fill="#ffffff" stroke="#ff5300"/><polygon points="347.2,286.6 359.8,284.3 348.1,295.0 335.5,297.8" fill="#ffffff" stroke="#ff1800"/><polygon points="249.0,301.8 261.6,299.6 249.9,294.8 237.3,297.2" fill="#a9e9fb" stroke="#ff4100"/><polygon points="421.1,264.8 433.7,265.7 422.0,264.8 409.4,264.5" fill="#a9e9fb" stroke="#ff0b00"/><polygon points="310.2,298.8 322.9,295.7 311.2,294.8 298.6,297.8" fill="#a9e9fb" stroke="#ea0000"/><polygon points="347.2,280.5 359.8,277.7 348.1,289.7 335.5,292.6" fill="#a9e9fb" stroke="#d40000"/><polygon points="384.1,269.4 396.8,264.6 385.1,277.0 372.5,281.4" fill="#ffffff" stroke="#e80000"/><polygon points="273.3,309.1 285.9,306.6 274.3,302.8 261.6,305.3" fill="#ffffff" stroke="#ff7900"/><polygon points="445.4,280.9 458.0,281.6 446.3,266.6 433.7,265.7" fill="#a9e9fb" stroke="#ff2600"/><polygon points="469.7,296.2 482.3,291.8 470.6,280.0 458.0,281.6" fill="#a9e9fb" stroke="#ff5600"/><polygon points="421.1,259.7 433.7,258.8 422.0,258.1 409.4,259.8" fill="#ffffff" stroke="#e30000"/><polygon points="384.1,262.9 396.8,263.2 385.1,274.6 372.5,275.3" fill="#a9e9fb" stroke="#d60000"/><polygon points="469.7,291.0 482.3,293.2 470.6,282.6 458.0,276.4" fill="#ffffff" stroke="#ff2900"/><polygon points="273.3,304.0 285.9,301.0 274.3,296.6 261.6,299.6" fill="#a9e9fb" stroke="#ff0f00"/><polygon points="445.4,273.8 458.0,276.4 446.3,261.5 433.7,258.8" fill="#ffffff" stroke="#f10000"/><polygon points="236.4,303.6 249.0,305.6 237.3,301.7 224.7,299.9" fill="#ffffff" stroke="#ff9100"/><polygon points="297.6,307.0 310.2,303.9 298.6,303.6 285.9,306.6" fill="#ffffff" stroke="#ff5900"/><polygon points="334.6,289.3 347.2,286.6 335.5,297.8 322.9,300.8" fill="#ffffff" stroke="#ff1a00"/><polygon points="236.4,303.3 249.0,301.8 237.3,297.2 224.7,298.5" fill="#a9e9fb" stroke="#ff5200"/><polygon points="297.6,302.3 310.2,298.8 298.6,297.8 285.9,301.0" fill="#a9e9fb" stroke="#ea0000"/><polygon points="334.6,283.2 347.2,280.5 335.5,292.6 322.9,295.7" fill="#a9e9fb" stroke="#d00000"/><polygon points="371.5,272.0 384.1,269.4 372.5,281.4 359.8,284.3" fill="#ffffff" stroke="#e70000"/><polygon points="408.4,263.1 421.1,264.8 409.4,264.5 396.8,263.2" fill="#a9e9fb" stroke="#e90000"/><polygon points="260.7,308.7 273.3,309.1 261.6,305.3 249.0,305.6" fill="#ffffff" stroke="#ff7c00"/><polygon points="408.4,264.2 421.1,259.7 409.4,259.8 396.8,264.6" fill="#ffffff" stroke="#dc0000"/><polygon points="457.0,296.4 469.7,296.2 458.0,281.6 445.4,280.9" fill="#a9e9fb" stroke="#ff3700"/><polygon points="371.5,264.7 384.1,262.9 372.5,275.3 359.8,277.7" fill="#a9e9fb" stroke="#c10000"/><polygon points="260.7,306.1 273.3,304.0 261.6,299.6 249.0,301.8" fill="#a9e9fb" stroke="#ff1600"/><polygon points="432.7,278.7 445.4,280.9 433.7,265.7 421.1,264.8" fill="#a9e9fb" stroke="#ff0e00"/><polygon points="457.0,288.8 469.7,291.0 458.0,276.4 445.4,273.8" fill="#ffffff" stroke="#ff0400"/><polygon points="432.7,273.5 445.4,273.8 433.7,258.8 421.1,259.7" fill="#ffffff" stroke="#e60000"/><polygon points="285.0,309.9 297.6,307.0 285.9,306.6 273.3,309.1" fill="#ffffff" stroke="#ff5e00"/><polygon points="321.9,292.4 334.6,289.3 322.9,300.8 310.2,303.9" fill="#ffffff" stroke="#ff2000"/><polygon points="285.0,305.7 297.6,302.3 285.9,301.0 273.3,304.0" fill="#a9e9fb" stroke="#ea0000"/><polygon points="321.9,286.4 334.6,283.2 322.9,295.7 310.2,298.8" fill="#a9e9fb" stroke="#cd0000"/><polygon points="358.9,274.0 371.5,272.0 359.8,284.3 347.2,286.6" fill="#ffffff" stroke="#e70000"/><polygon points="395.8,268.8 408.4,264.2 396.8,264.6 384.1,269.4" fill="#ffffff" stroke="#d60000"/><polygon points="395.8,262.4 408.4,263.1 396.8,263.2 384.1,262.9" fill="#a9e9fb" stroke="#be0000"/><polygon points="248.0,305.2 260.7,308.7 249.0,305.6 236.4,303.6" fill="#ffffff" stroke="#ff7e00"/><polygon points="358.9,267.1 371.5,264.7 359.8,277.7 347.2,280.5" fill="#a9e9fb" stroke="#b70000"/><polygon points="248.0,307.2 260.7,306.1 249.0,301.8 236.4,303.3" fill="#a9e9fb" stroke="#ff2400"/><polygon points="444.4,293.4 457.0,296.4 445.4,280.9 432.7,278.7" fill="#a9e9fb" stroke="#ff1d00"/><polygon points="420.1,273.8 432.7,278.7 421.1,264.8 408.4,263.1" fill="#a9e9fb" stroke="#e80000"/><polygon points="420.1,275.2 432.7,273.5 421.1,259.7 408.4,264.2" fill="#ffffff" stroke="#dd0000"/><polygon points="444.4,288.2 457.0,288.8 445.4,273.8 432.7,273.5" fill="#ffffff" stroke="#f60000"/><polygon points="309.3,296.8 321.9,292.4 310.2,303.9 297.6,307.0" fill="#ffffff" stroke="#ff2800"/><polygon points="272.3,309.8 285.0,309.9 273.3,309.1 260.7,308.7" fill="#ffffff" stroke="#ff6300"/><polygon points="272.3,308.2 285.0,305.7 273.3,304.0 260.7,306.1" fill="#a9e9fb" stroke="#ee0000"/><polygon points="309.3,291.0 321.9,286.4 310.2,298.8 297.6,302.3" fill="#a9e9fb" stroke="#cc0000"/><polygon points="346.2,276.2 358.9,274.0 347.2,286.6 334.6,289.3" fill="#ffffff" stroke="#e80000"/><polygon points="383.2,271.4 395.8,268.8 384.1,269.4 371.5,272.0" fill="#ffffff" stroke="#d40000"/><polygon points="346.2,269.1 358.9,267.1 347.2,280.5 334.6,283.2" fill="#a9e9fb" stroke="#b00000"/><polygon points="383.2,264.1 395.8,262.4 384.1,262.9 371.5,264.7" fill="#a9e9fb" stroke="#a40000"/><polygon points="407.5,277.8 420.1,275.2 408.4,264.2 395.8,268.8" fill="#ffffff" stroke="#d50000"/><polygon points="296.7,301.2 309.3,296.8 297.6,307.0 285.0,309.9" fill="#ffffff" stroke="#ff2f00"/><polygon points="431.8,287.9 444.4,293.4 432.7,278.7 420.1,273.8" fill="#a9e9fb" stroke="#f80000"/><polygon points="431.8,289.8 444.4,288.2 432.7,273.5 420.1,275.2" fill="#ffffff" stroke="#ea0000"/><polygon points="407.5,271.3 420.1,273.8 408.4,263.1 395.8,262.4" fill="#a9e9fb" stroke="#ba0000"/><polygon points="296.7,296.5 309.3,291.0 297.6,302.3 285.0,305.7" fill="#a9e9fb" stroke="#cc0000"/><polygon points="259.7,310.0 272.3,308.2 260.7,306.1 248.0,307.2" fill="#a9e9fb" stroke="#f90000"/><polygon points="259.7,306.4 272.3,309.8 260.7,308.7 248.0,305.2" fill="#ffffff" stroke="#ff6800"/><polygon points="333.6,279.2 346.2,276.2 334.6,289.3 321.9,292.4" fill="#ffffff" stroke="#ec0000"/><polygon points="370.5,273.5 383.2,271.4 371.5,272.0 358.9,274.0" fill="#ffffff" stroke="#d40000"/><polygon points="333.6,271.9 346.2,269.1 334.6,283.2 321.9,286.4" fill="#a9e9fb" stroke="#ab0000"/><polygon points="370.5,266.3 383.2,264.1 371.5,264.7 358.9,267.1" fill="#a9e9fb" stroke="#9a0000"/><polygon points="394.8,281.0 407.5,277.8 395.8,268.8 383.2,271.4" fill="#ffffff" stroke="#d20000"/><polygon points="284.0,304.7 296.7,301.2 285.0,309.9 272.3,309.8" fill="#ffffff" stroke="#ff3800"/><polygon points="284.0,302.9 296.7,296.5 285.0,305.7 272.3,308.2" fill="#a9e9fb" stroke="#cf0000"/><polygon points="419.2,292.6 431.8,289.8 420.1,275.2 407.5,277.8" fill="#ffffff" stroke="#e00000"/><polygon points="394.8,274.0 407.5,271.3 395.8,262.4 383.2,264.1" fill="#a9e9fb" stroke="#a10000"/><polygon points="321.0,283.6 333.6,279.2 321.9,292.4 309.3,296.8" fill="#ffffff" stroke="#f30000"/><polygon points="419.2,285.4 431.8,287.9 420.1,273.8 407.5,271.3" fill="#a9e9fb" stroke="#d00000"/><polygon points="357.9,276.0 370.5,273.5 358.9,274.0 346.2,276.2" fill="#ffffff" stroke="#d50000"/><polygon points="321.0,276.2 333.6,271.9 321.9,286.4 309.3,291.0" fill="#a9e9fb" stroke="#a90000"/><polygon points="357.9,268.5 370.5,266.3 358.9,267.1 346.2,269.1" fill="#a9e9fb" stroke="#930000"/><polygon points="382.2,284.5 394.8,281.0 383.2,271.4 370.5,273.5" fill="#ffffff" stroke="#d20000"/><polygon points="271.4,310.4 284.0,302.9 272.3,308.2 259.7,310.0" fill="#a9e9fb" stroke="#d60000"/><polygon points="271.4,307.8 284.0,304.7 272.3,309.8 259.7,306.4" fill="#ffffff" stroke="#ff4200"/><polygon points="406.5,296.5 419.2,292.6 407.5,277.8 394.8,281.0" fill="#ffffff" stroke="#dc0000"/><polygon points="308.3,288.9 321.0,283.6 309.3,296.8 296.7,301.2" fill="#ffffff" stroke="#fd0000"/><polygon points="382.2,277.4 394.8,274.0 383.2,264.1 370.5,266.3" fill="#a9e9fb" stroke="#9a0000"/><polygon points="345.3,279.1 357.9,276.0 346.2,276.2 333.6,279.2" fill="#ffffff" stroke="#d60000"/><polygon points="406.5,289.6 419.2,285.4 407.5,271.3 394.8,274.0" fill="#a9e9fb" stroke="#bb0000"/><polygon points="308.3,281.2 321.0,276.2 309.3,291.0 296.7,296.5" fill="#a9e9fb" stroke="#a90000"/><polygon points="345.3,271.3 357.9,268.5 346.2,269.1 333.6,271.9" fill="#a9e9fb" stroke="#8e0000"/><polygon points="369.6,288.9 382.2,284.5 370.5,273.5 357.9,276.0" fill="#ffffff" stroke="#d30000"/><polygon points="393.9,300.8 406.5,296.5 394.8,281.0 382.2,284.5" fill="#ffffff" stroke="#dc0000"/><polygon points="295.7,296.2 308.3,288.9 296.7,301.2 284.0,304.7" fill="#ffffff" stroke="#ff0b00"/><polygon points="369.6,281.6 382.2,277.4 370.5,266.3 357.9,268.5" fill="#a9e9fb" stroke="#970000"/><polygon points="332.6,283.6 345.3,279.1 333.6,279.2 321.0,283.6" fill="#ffffff" stroke="#db0000"/><polygon points="295.7,288.1 308.3,281.2 296.7,296.5 284.0,302.9" fill="#a9e9fb" stroke="#ab0000"/><polygon points="393.9,294.3 406.5,289.6 394.8,274.0 382.2,277.4" fill="#a9e9fb" stroke="#b60000"/><polygon points="332.6,275.3 345.3,271.3 333.6,271.9 321.0,276.2" fill="#a9e9fb" stroke="#8d0000"/><polygon points="357.0,294.0 369.6,288.9 357.9,276.0 345.3,279.1" fill="#ffffff" stroke="#d60000"/><polygon points="283.1,306.1 295.7,296.2 284.0,304.7 271.4,307.8" fill="#ffffff" stroke="#ff1b00"/><polygon points="381.3,306.3 393.9,300.8 382.2,284.5 369.6,288.9" fill="#ffffff" stroke="#de0000"/><polygon points="283.1,297.5 295.7,288.1 284.0,302.9 271.4,310.4" fill="#a9e9fb" stroke="#af0000"/><polygon points="357.0,286.3 369.6,281.6 357.9,268.5 345.3,271.3" fill="#a9e9fb" stroke="#950000"/><polygon points="320.0,289.1 332.6,283.6 321.0,283.6 308.3,288.9" fill="#ffffff" stroke="#e50000"/><polygon points="381.3,299.9 393.9,294.3 382.2,277.4 369.6,281.6" fill="#a9e9fb" stroke="#b50000"/><polygon points="320.0,279.6 332.6,275.3 321.0,276.2 308.3,281.2" fill="#a9e9fb" stroke="#8d0000"/><polygon points="344.3,299.8 357.0,294.0 345.3,279.1 332.6,283.6" fill="#ffffff" stroke="#de0000"/><polygon points="368.6,312.8 381.3,306.3 369.6,288.9 357.0,294.0" fill="#ffffff" stroke="#e70000"/><polygon points="307.4,297.6 320.0,289.1 308.3,288.9 295.7,296.2" fill="#ffffff" stroke="#f50000"/><polygon points="344.3,291.9 357.0,286.3 345.3,271.3 332.6,275.3" fill="#a9e9fb" stroke="#960000"/><polygon points="368.6,306.4 381.3,299.9 369.6,281.6 357.0,286.3" fill="#a9e9fb" stroke="#b50000"/><polygon points="307.4,285.5 320.0,279.6 308.3,281.2 295.7,288.1" fill="#a9e9fb" stroke="#8e0000"/><polygon points="331.7,306.4 344.3,299.8 332.6,283.6 320.0,289.1" fill="#ffffff" stroke="#eb0000"/><polygon points="356.0,319.5 368.6,312.8 357.0,294.0 344.3,299.8" fill="#ffffff" stroke="#f40000"/><polygon points="294.7,309.6 307.4,297.6 295.7,296.2 283.1,306.1" fill="#ffffff" stroke="#ff0a00"/><polygon points="331.7,298.3 344.3,291.9 332.6,275.3 320.0,279.6" fill="#a9e9fb" stroke="#990000"/><polygon points="356.0,313.1 368.6,306.4 357.0,286.3 344.3,291.9" fill="#a9e9fb" stroke="#b70000"/><polygon points="294.7,293.2 307.4,285.5 295.7,288.1 283.1,297.5" fill="#a9e9fb" stroke="#8f0000"/><polygon points="319.1,314.1 331.7,306.4 320.0,289.1 307.4,297.6" fill="#ffffff" stroke="#fe0000"/><polygon points="343.4,326.2 356.0,319.5 344.3,299.8 331.7,306.4" fill="#ffffff" stroke="#ff0700"/><polygon points="319.1,305.0 331.7,298.3 320.0,279.6 307.4,285.5" fill="#a9e9fb" stroke="#9d0000"/><polygon points="343.4,319.7 356.0,313.1 344.3,291.9 331.7,298.3" fill="#a9e9fb" stroke="#bd0000"/><polygon points="306.4,322.9 319.1,314.1 307.4,297.6 294.7,309.6" fill="#ffffff" stroke="#ff1700"/><polygon points="330.7,332.4 343.4,326.2 331.7,306.4 319.1,314.1" fill="#ffffff" stroke="#ff1f00"/><polygon points="306.4,312.2 319.1,305.0 307.4,285.5 294.7,293.2" fill="#a9e9fb" stroke="#a00000"/><polygon points="330.7,325.9 343.4,319.7 331.7,298.3 319.1,305.0" fill="#a9e9fb" stroke="#c40000"/><polygon points="318.1,338.3 330.7,332.4 319.1,314.1 306.4,322.9" fill="#ffffff" stroke="#ff3b00"/><polygon points="318.1,331.8 330.7,325.9 319.1,305.0 306.4,312.2" fill="#a9e9fb" stroke="#cc0000"/></g>
<path d="M84.9 391.2L84.9 132.3M319.6 509.7L84.9 391.2M319.6 509.7L625.2 418.3M84.9 391.2L78.1 387.8M84.9 326.5L78.1 323.0M84.9 261.7L78.1 258.3M84.9 197.0L78.1 193.6M84.9 132.3L78.1 128.9M319.6 509.7L312.3 511.9M202.3 450.4L195.0 452.6M84.9 391.2L77.6 393.4M319.6 509.7L326.4 513.1M421.5 479.2L428.3 482.7M523.3 448.8L530.1 452.2M625.2 418.3L632.0 421.7" fill="none" stroke="#000" stroke-width="1.6" stroke-linecap="butt"/>
<text x="149.7" y="20.5" text-anchor="start" font-size="27">Gabor phase features on CASIA−I</text><text x="71.2" y="394.4" text-anchor="end" font-size="27">0</text><text x="71.2" y="329.7" text-anchor="end" font-size="27">1</text><text x="71.2" y="264.9" text-anchor="end" font-size="27">2</text><text x="71.2" y="200.2" text-anchor="end" font-size="27">3</text><text x="71.2" y="135.5" text-anchor="end" font-size="27">4</text><text x="304.2" y="539.6" text-anchor="end" font-size="27">0</text><text x="186.9" y="480.3" text-anchor="end" font-size="27">50</text><text x="69.5" y="421.1" text-anchor="end" font-size="27">100</text><text x="333.8" y="542.3" text-anchor="start" font-size="27">0</text><text x="435.7" y="511.8" text-anchor="start" font-size="27">50</text><text x="537.5" y="481.4" text-anchor="start" font-size="27">100</text><text x="639.4" y="450.9" text-anchor="start" font-size="27">150</text><text x="136.9" y="516.8" text-anchor="start" font-size="44">c</text><text x="503.7" y="514.1" text-anchor="start" font-size="44">r</text><text transform="translate(34.1 284) rotate(-90)" font-size="44">DI</text>
<rect x="159.8" y="89.4" width="399.7" height="92.1" fill="#fff" stroke="#000" stroke-width="1.8"/>
<rect x="176.4" y="99.6" width="85.4" height="30.4" fill="#a9e9fb" stroke="#e6a048" stroke-width="1.6"/>
<rect x="176.4" y="140.9" width="85.4" height="30.2" fill="#fff" stroke="#e6a048" stroke-width="1.6"/>
<text x="270.8" y="124.7" font-size="27">Our localized way</text>
<text x="270.8" y="165.2" font-size="27">Existing localized way</text>
</svg>
</body></html>
